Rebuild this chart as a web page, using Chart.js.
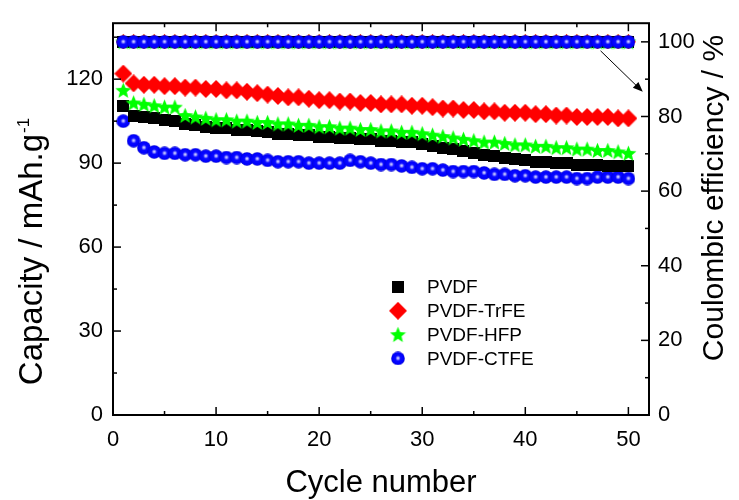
<!DOCTYPE html>
<html>
<head>
<meta charset="utf-8">
<script src="https://cdn.jsdelivr.net/npm/chart.js@4.4.0/dist/chart.umd.min.js"></script>
<style>
    html, body { margin: 0; padding: 0; background: #fff; }
</style>
</head>
<body>
<canvas id="cycling-chart" width="739" height="500"></canvas>
<script>
    // cycle number (x) and capacity / coulombic efficiency per binder
    var cycles = [1, 2, 3, 4, 5, 6, 7, 8, 9, 10, 11, 12, 13, 14, 15, 16, 17, 18, 19, 20,
        21, 22, 23, 24, 25, 26, 27, 28, 29, 30, 31, 32, 33, 34, 35, 36, 37, 38, 39, 40,
        41, 42, 43, 44, 45, 46, 47, 48, 49, 50];

    var pvdfCap = [110.5, 107, 106.5, 106, 105.5, 105, 104, 103.5, 103, 102.5,
        102.5, 102, 102, 101.5, 101, 100.5, 100.5, 100, 100, 99.5,
        99.5, 99, 99, 98.5, 98.5, 98, 98, 97.5, 97.5, 97,
        96, 95.5, 95, 94.5, 93.5, 93, 92.5, 92, 91.5, 91,
        90.5, 90.5, 90, 90, 89.5, 89.5, 89.5, 89, 89, 89];
    var trfeCap = [122, 118.5, 118, 118, 117.5, 117.5, 117, 117, 116.5, 116.5,
        116, 116, 115.5, 115, 114.5, 114, 113.5, 113.5, 113, 112.5,
        112.5, 112, 112, 111.5, 111.5, 111, 111, 111, 110.5, 110.5,
        110, 109.5, 109.5, 109, 109, 108.5, 108.5, 108, 108, 108,
        107.5, 107.5, 107, 107, 106.5, 106.5, 106.5, 106.5, 106, 106];
    var hfpCap = [116, 111.5, 111, 110.5, 110, 110, 107, 106.5, 106, 105.5,
        105.5, 105, 105, 104.5, 104.5, 104, 104, 103.5, 103.5, 103,
        103, 102.5, 102.5, 102, 102, 101.5, 101.5, 101, 101, 100.5,
        100, 99.5, 99, 98.5, 98, 97.5, 97.5, 97, 96.5, 96.5,
        96, 96, 95.5, 95.5, 95, 95, 94.5, 94.5, 94, 93.5];
    var ctfeCap = [105, 98, 95.5, 94, 93.5, 93.5, 93, 93, 92.5, 92.5,
        92, 92, 91.5, 91.5, 91, 90.5, 90.5, 90.5, 90, 90,
        90, 90, 91, 90.5, 90, 89.5, 89.5, 89, 88.5, 88,
        88, 87.5, 87, 87, 87, 86.5, 86, 86, 85.5, 85.5,
        85, 85, 85, 85, 84.5, 84.5, 85, 85, 85, 84.5];

    var pvdfCE = [100, 100, 100, 100, 100, 100, 100, 100, 100, 100, 100, 100, 100, 100, 100, 100, 100, 100, 100, 100, 100, 100, 100, 100, 100,
        100, 100, 100, 100, 100, 100, 100, 100, 100, 100, 100, 100, 100, 100, 100, 100, 100, 100, 100, 100, 100, 100, 100, 100, 100];
    var trfeCE = [100, 100, 100, 100, 100, 100, 100, 100, 100, 100, 100, 100, 100, 100, 100, 100, 100, 100, 100, 100, 100, 100, 100, 100, 100,
        100, 100, 100, 100, 100, 100, 100, 100, 100, 100, 100, 100, 100, 100, 100, 100, 100, 100, 100, 100, 100, 100, 100, 100, 100];
    var hfpCE = [100, 100, 100, 100, 100, 100, 100, 100, 100, 100, 100, 100, 100, 100, 100, 100, 100, 100, 100, 100, 100, 100, 100, 100, 100,
        100, 100, 100, 100, 100, 100, 100, 100, 100, 100, 100, 100, 100, 100, 100, 100, 100, 100, 100, 100, 100, 100, 100, 100, 100];
    var ctfeCE = [100, 100, 100, 100, 100, 100, 100, 100, 100, 100, 100, 100, 100, 100, 100, 100, 100, 100, 100, 100, 100, 100, 100, 100, 100,
        100, 100, 100, 100, 100, 100, 100, 100, 100, 100, 100, 100, 100, 100, 100, 100, 100, 100, 100, 100, 100, 100, 100, 100, 100];

    var seriesLabels = ['PVDF', 'PVDF-TrFE', 'PVDF-HFP', 'PVDF-CTFE'];

    // tick values
    var xTicks = [0, 10, 20, 30, 40, 50];
    var xMinor = [5, 15, 25, 35, 45];
    var capTicks = [0, 30, 60, 90, 120];
    var capMinor = [15, 45, 75, 105, 135];
    var ceTicks = [0, 20, 40, 60, 80, 100];
    var ceMinor = [10, 30, 50, 70, 90];

    var FONT = "'Liberation Sans', Arial, sans-serif";

    function makeMarker(size, draw) {
        var c = document.createElement('canvas');
        c.width = size;
        c.height = size;
        draw(c.getContext('2d'), size / 2);
        return c;
    }

    function diamond(size) {
        return makeMarker(size, function (g, h) {
            g.fillStyle = '#ff0000';
            g.beginPath();
            g.moveTo(h, 0); g.lineTo(2 * h, h); g.lineTo(h, 2 * h); g.lineTo(0, h);
            g.closePath();
            g.fill();
        });
    }

    var squareMark = makeMarker(12, function (g, h) {
        g.fillStyle = '#000';
        g.fillRect(0, 0, 12, 12);
    });
    var diamondMark = diamond(18);
    var diamondSmall = diamond(15);
    var starMark = makeMarker(17, function (g, h) {
        g.fillStyle = '#00ff00';
        g.beginPath();
        for (var i = 0; i < 10; i++) {
            var r = i % 2 ? 3.7 : 8.4;
            var a = -Math.PI / 2 + i * Math.PI / 5;
            g.lineTo(h + r * Math.cos(a), h + 0.6 + r * Math.sin(a));
        }
        g.closePath();
        g.fill();
    });
    var sphereMark = makeMarker(14, function (g, h) {
        var grad = g.createRadialGradient(h, h - 0.3, 0, h, h, h);
        grad.addColorStop(0, '#f4f4ff');
        grad.addColorStop(0.16, '#9a9aff');
        grad.addColorStop(0.38, '#0a0aff');
        grad.addColorStop(0.8, '#0000ff');
        grad.addColorStop(1, '#0000c4');
        g.fillStyle = grad;
        g.beginPath();
        g.arc(h, h, h - 0.2, 0, Math.PI * 2);
        g.fill();
    });

    function series(label, values, axis, marker, order) {
        return {
            label: label,
            data: cycles.map(function (c, i) { return { x: c, y: values[i] }; }),
            yAxisID: axis,
            pointStyle: marker,
            pointRadius: 6,
            pointHoverRadius: 6,
            showLine: false,
            order: order
        };
    }

    function fixTicks(values) {
        return function (scale) {
            scale.ticks = values.map(function (v) { return { value: v }; });
        };
    }

    // frame, inward ticks, axis titles, legend and arrow
    var decorations = {
        id: 'decorations',
        afterDraw: function (chart) {
            var ctx = chart.ctx, a = chart.chartArea, s = chart.scales;
            ctx.save();
            ctx.strokeStyle = '#000';
            ctx.fillStyle = '#000';

            ctx.lineWidth = 1.5;
            function xTick(v, len) {
                var px = s.x.getPixelForValue(v);
                ctx.beginPath();
                ctx.moveTo(px, a.bottom); ctx.lineTo(px, a.bottom - len);
                ctx.moveTo(px, a.top); ctx.lineTo(px, a.top + len);
                ctx.stroke();
            }
            function yTick(scale, v, len, left) {
                var py = scale.getPixelForValue(v);
                var x0 = left ? a.left : a.right;
                ctx.beginPath();
                ctx.moveTo(x0, py); ctx.lineTo(left ? x0 + len : x0 - len, py);
                ctx.stroke();
            }
            xTicks.forEach(function (v) { xTick(v, 8); });
            xMinor.forEach(function (v) { xTick(v, 4); });
            capTicks.forEach(function (v) { yTick(s.yCap, v, 8, true); });
            capMinor.forEach(function (v) { yTick(s.yCap, v, 4, true); });
            ceTicks.forEach(function (v) { yTick(s.yCE, v, 8, false); });
            ceMinor.forEach(function (v) { yTick(s.yCE, v, 4, false); });

            ctx.lineWidth = 2;
            ctx.strokeRect(a.left, a.top, a.right - a.left, a.bottom - a.top);

            // x title
            ctx.textBaseline = 'alphabetic';
            ctx.textAlign = 'center';
            ctx.font = '31px ' + FONT;
            ctx.fillText('Cycle number', 381, 492);

            // left title with superscript
            ctx.save();
            ctx.translate(42, 252);
            ctx.rotate(-Math.PI / 2);
            ctx.textAlign = 'left';
            ctx.font = '33px ' + FONT;
            var main = 'Capacity / mAh.g';
            var w1 = ctx.measureText(main).width;
            ctx.font = '17px ' + FONT;
            var w2 = ctx.measureText('-1').width;
            var x0 = -(w1 + w2) / 2;
            ctx.font = '33px ' + FONT;
            ctx.fillText(main, x0, 0);
            ctx.font = '17px ' + FONT;
            ctx.fillText('-1', x0 + w1 + 1, -13);
            ctx.restore();

            // right title
            ctx.save();
            ctx.translate(723, 198);
            ctx.rotate(-Math.PI / 2);
            ctx.textAlign = 'center';
            ctx.font = '30px ' + FONT;
            ctx.fillText('Coulombic efficiency / %', 0, 0);
            ctx.restore();

            // legend
            var marks = [squareMark, diamondMark, starMark, sphereMark];
            ctx.font = '19px ' + FONT;
            ctx.textAlign = 'left';
            ctx.textBaseline = 'middle';
            seriesLabels.forEach(function (label, i) {
                var y = 287 + i * 23.8;
                var m = marks[i];
                ctx.drawImage(m, 398 - m.width / 2, y - m.height / 2);
                ctx.fillText(label, 427, y + 1);
            });

            // arrow pointing from the efficiency points to the right axis
            var ax = s.x.getPixelForValue(47.3), ay = s.yCE.getPixelForValue(97.6);
            var bx = s.x.getPixelForValue(51.4), by = s.yCE.getPixelForValue(86.6);
            var ang = Math.atan2(by - ay, bx - ax);
            ctx.lineWidth = 1;
            ctx.beginPath();
            ctx.moveTo(ax, ay);
            ctx.lineTo(bx - 6 * Math.cos(ang), by - 6 * Math.sin(ang));
            ctx.stroke();
            ctx.beginPath();
            ctx.moveTo(bx, by);
            ctx.lineTo(bx - 10 * Math.cos(ang) + 4 * Math.sin(ang), by - 10 * Math.sin(ang) - 4 * Math.cos(ang));
            ctx.lineTo(bx - 10 * Math.cos(ang) - 4 * Math.sin(ang), by - 10 * Math.sin(ang) + 4 * Math.cos(ang));
            ctx.closePath();
            ctx.fill();

            ctx.restore();
        }
    };

    var tickFont = { family: FONT, size: 22 };

    new Chart(document.getElementById('cycling-chart').getContext('2d'), {
        type: 'scatter',
        data: {
            datasets: [
                series('PVDF-CTFE CE', ctfeCE, 'yCE', sphereMark, 0),
                series('PVDF-TrFE CE', trfeCE, 'yCE', diamondSmall, 1),
                series('PVDF-HFP CE', hfpCE, 'yCE', starMark, 2),
                series('PVDF CE', pvdfCE, 'yCE', squareMark, 3),
                series(seriesLabels[2], hfpCap, 'yCap', starMark, 4),
                series(seriesLabels[0], pvdfCap, 'yCap', squareMark, 5),
                series(seriesLabels[1], trfeCap, 'yCap', diamondMark, 6),
                series(seriesLabels[3], ctfeCap, 'yCap', sphereMark, 7)
            ]
        },
        options: {
            responsive: false,
            animation: false,
            devicePixelRatio: 1,
            layout: { padding: { top: 15, left: 0, right: 0, bottom: 0 } },
            plugins: {
                legend: { display: false },
                tooltip: { enabled: false }
            },
            scales: {
                x: {
                    type: 'linear',
                    position: 'bottom',
                    min: 0,
                    max: 52,
                    grid: { display: false, drawTicks: false },
                    border: { display: false },
                    ticks: { font: tickFont, color: '#000', padding: 12, maxRotation: 0 },
                    afterBuildTicks: fixTicks(xTicks),
                    afterFit: function (scale) { scale.height = 85; }
                },
                yCap: {
                    type: 'linear',
                    position: 'left',
                    min: 0,
                    max: 140,
                    grid: { display: false, drawTicks: false },
                    border: { display: false },
                    ticks: { font: tickFont, color: '#000', padding: 10 },
                    afterBuildTicks: fixTicks(capTicks),
                    afterFit: function (scale) { scale.width = 113; }
                },
                yCE: {
                    type: 'linear',
                    position: 'right',
                    min: 0,
                    max: 105,
                    grid: { display: false, drawTicks: false },
                    border: { display: false },
                    ticks: { font: tickFont, color: '#000', padding: 9 },
                    afterBuildTicks: fixTicks(ceTicks),
                    afterFit: function (scale) { scale.width = 90; }
                }
            }
        },
        plugins: [decorations]
    });
</script>
</body>
</html>
